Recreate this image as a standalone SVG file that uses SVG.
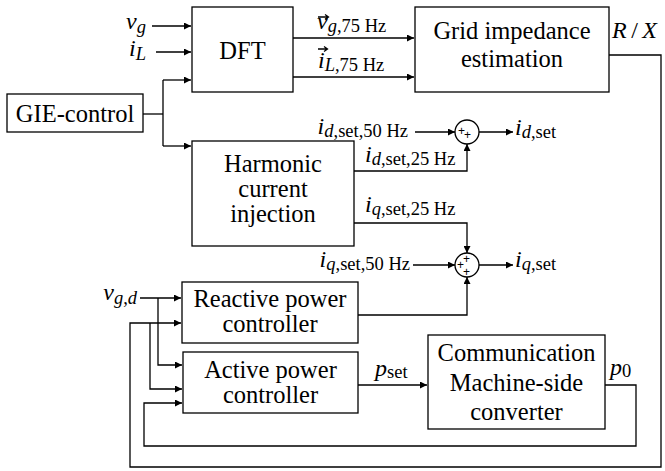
<svg xmlns="http://www.w3.org/2000/svg" width="665" height="471" viewBox="0 0 665 471">
<style>
.box{fill:#fff;stroke:#000;stroke-width:1.3}
.t{font-family:"Liberation Serif",serif;font-size:24.5px;text-anchor:middle;fill:#000}
.m{font-family:"Liberation Serif",serif;font-size:24px;fill:#000}
.mi{font-style:italic}
.sub{font-size:18.5px}
.w{fill:none;stroke:#000;stroke-width:1.3}
.pl{font-family:"Liberation Sans",sans-serif;font-size:12px;text-anchor:middle;fill:#000}
</style>
<defs>
<marker id="ah" viewBox="0 0 10 10" refX="10" refY="5" markerWidth="8" markerHeight="7" markerUnits="userSpaceOnUse" orient="auto">
<path d="M0,0 L10,5 L0,10 Z" fill="#000"/>
</marker>
</defs>
<g id="connectors">
<path class="w" d="M152,26 H191" marker-end="url(#ah)"/>
<path class="w" d="M156,52 H191" marker-end="url(#ah)"/>
<path class="w" d="M143,114 H163"/>
<path class="w" d="M163,80 V146"/>
<path class="w" d="M163,80 H191" marker-end="url(#ah)"/>
<path class="w" d="M163,146 H191" marker-end="url(#ah)"/>
<path class="w" d="M293,38 H414" marker-end="url(#ah)"/>
<path class="w" d="M293,77 H414" marker-end="url(#ah)"/>
<path class="w" d="M609,55 H661 V467 H130 V323 H181" marker-end="url(#ah)"/>
<path class="w" d="M150,323 V389 H182" marker-end="url(#ah)"/>
<path class="w" d="M140,298 H181" marker-end="url(#ah)"/>
<path class="w" d="M158,298 V365 H182" marker-end="url(#ah)"/>
<path class="w" d="M605,385 H636 V446 H144 V403 H182" marker-end="url(#ah)"/>
<path class="w" d="M358,385 H427" marker-end="url(#ah)"/>
<path class="w" d="M415,132 H455" marker-end="url(#ah)"/>
<path class="w" d="M479,132 H513" marker-end="url(#ah)"/>
<path class="w" d="M354,171 H467 V144" marker-end="url(#ah)"/>
<path class="w" d="M354,223 H467 V253" marker-end="url(#ah)"/>
<path class="w" d="M413,265 H455" marker-end="url(#ah)"/>
<path class="w" d="M479,265 H513" marker-end="url(#ah)"/>
<path class="w" d="M358,315 H467 V277" marker-end="url(#ah)"/>
</g>
<g id="dft">
<rect class="box" x="192" y="7" width="101" height="85"/>
<text class="t" x="242.5" y="59">DFT</text>
</g>
<g id="gie">
<rect class="box" x="7" y="94" width="136" height="38"/>
<text class="t" x="75" y="122">GIE-control</text>
</g>
<g id="grid">
<rect class="box" x="415" y="7" width="194" height="85"/>
<text class="t" x="512" y="39">Grid impedance</text>
<text class="t" x="512" y="67">estimation</text>
</g>
<g id="harmonic">
<rect class="box" x="192" y="141" width="162" height="105"/>
<text class="t" x="273" y="172">Harmonic</text>
<text class="t" x="273" y="197">current</text>
<text class="t" x="273" y="222">injection</text>
</g>
<g id="reactive">
<rect class="box" x="182" y="282" width="176" height="61"/>
<text class="t" x="270" y="307">Reactive power</text>
<text class="t" x="270" y="332">controller</text>
</g>
<g id="active">
<rect class="box" x="183" y="352" width="175" height="61"/>
<text class="t" x="270.5" y="378">Active power</text>
<text class="t" x="270.5" y="403">controller</text>
</g>
<g id="comm">
<rect class="box" x="428" y="335" width="177" height="94"/>
<text class="t" x="516.5" y="361">Communication</text>
<text class="t" x="516.5" y="391">Machine-side</text>
<text class="t" x="516.5" y="420">converter</text>
</g>
<g id="sum1">
<circle class="w" cx="467" cy="132" r="12"/>
<text class="pl" x="461.5" y="134.5">+</text>
<text class="pl" x="467.5" y="139">+</text>
</g>
<g id="sum2">
<circle class="w" cx="467" cy="265" r="12"/>
<text class="pl" x="466.5" y="263">+</text>
<text class="pl" x="460.5" y="268.5">+</text>
<text class="pl" x="466.5" y="275.5">+</text>
</g>
<g id="labels">
<text class="m" x="146" y="29" text-anchor="end"><tspan class="mi">v</tspan><tspan class="sub mi" dy="4">g</tspan></text>
<text class="m" x="146" y="56" text-anchor="end"><tspan class="mi">i</tspan><tspan class="sub mi" dy="4">L</tspan></text>
<text class="m" x="317" y="29"><tspan class="mi">v</tspan><tspan class="sub" dy="3"><tspan class="mi">g</tspan>,75 Hz</tspan></text>
<path class="w" d="M318,17 H328 M325,14.5 L328.5,17 L325,19.5" stroke-width="1"/>
<text class="m" x="318" y="68"><tspan class="mi">i</tspan><tspan class="sub" dy="3"><tspan class="mi">L</tspan>,75 Hz</tspan></text>
<path class="w" d="M318,49 H327 M324,46.5 L327.5,49 L324,51.5" stroke-width="1"/>
<text class="m" x="612" y="38" font-size="25" textLength="45"><tspan class="mi">R</tspan>/<tspan class="mi">X</tspan></text>
<text class="m" x="408" y="134" text-anchor="end"><tspan class="mi">i</tspan><tspan class="sub" dy="3"><tspan class="mi">d</tspan>,set,50 Hz</tspan></text>
<text class="m" x="515" y="135"><tspan class="mi">i</tspan><tspan class="sub" dy="3"><tspan class="mi">d</tspan>,set</tspan></text>
<text class="m" x="365" y="162"><tspan class="mi">i</tspan><tspan class="sub" dy="3"><tspan class="mi">d</tspan>,set,25 Hz</tspan></text>
<text class="m" x="365" y="212"><tspan class="mi">i</tspan><tspan class="sub" dy="3"><tspan class="mi">q</tspan>,set,25 Hz</tspan></text>
<text class="m" x="410" y="267" text-anchor="end"><tspan class="mi">i</tspan><tspan class="sub" dy="3"><tspan class="mi">q</tspan>,set,50 Hz</tspan></text>
<text class="m" x="515" y="267"><tspan class="mi">i</tspan><tspan class="sub" dy="3"><tspan class="mi">q</tspan>,set</tspan></text>
<text class="m" x="137" y="300" text-anchor="end"><tspan class="mi">v</tspan><tspan class="sub" dy="4"><tspan class="mi">g</tspan>,<tspan class="mi">d</tspan></tspan></text>
<text class="m" x="375" y="376"><tspan class="mi">p</tspan><tspan class="sub" dy="2">set</tspan></text>
<text class="m" x="610" y="375"><tspan class="mi">p</tspan><tspan class="sub" dy="2">0</tspan></text>
</g>
</svg>
